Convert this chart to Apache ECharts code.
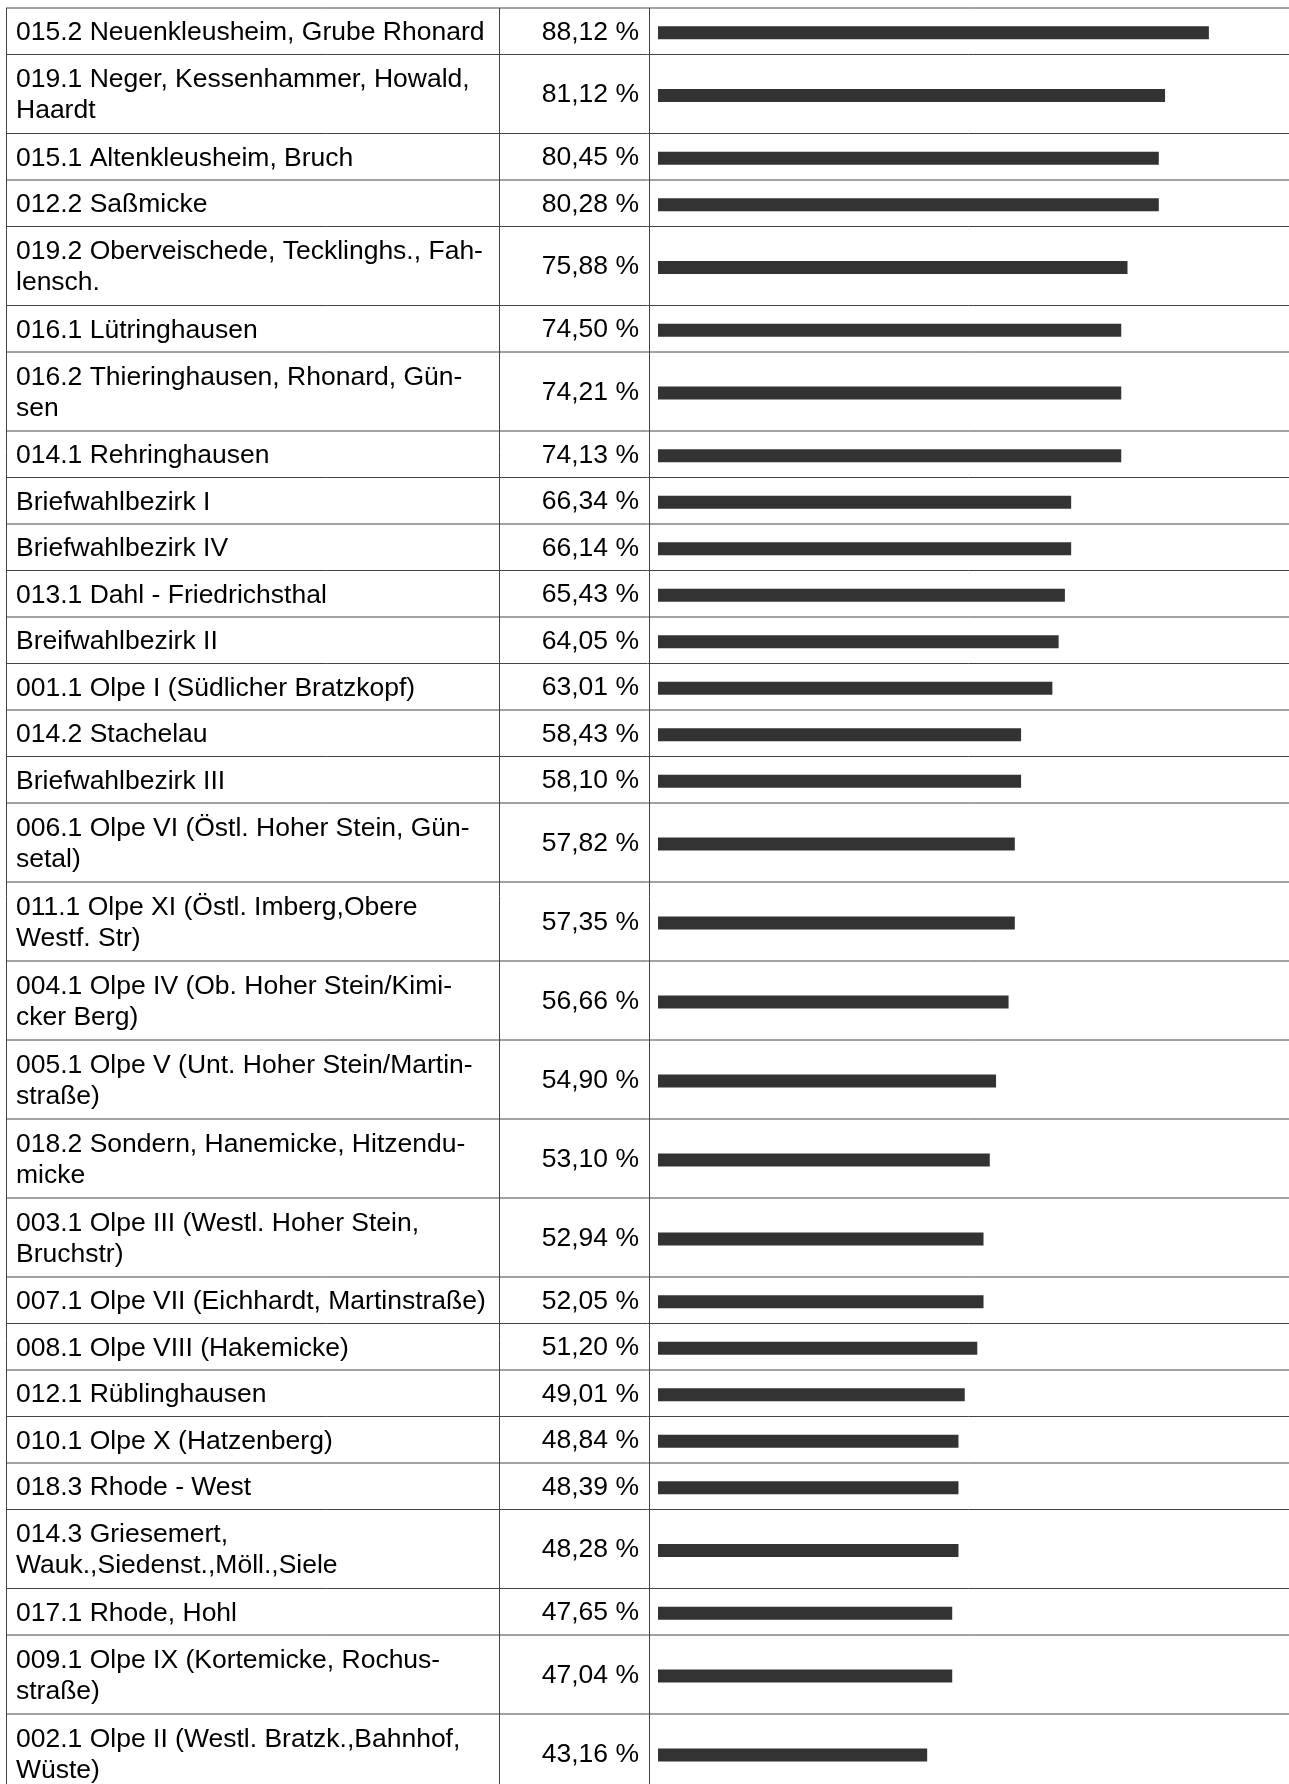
<!DOCTYPE html>
<html>
<head>
<meta charset="utf-8">
<title>Wahlbeteiligung</title>
<script src="https://cdn.jsdelivr.net/npm/echarts@6/dist/echarts.min.js"></script>
<style>
  html, body { margin: 0; padding: 0; background: #fff; }
  #chart { width: 1289px; height: 1784px; }
</style>
</head>
<body>
<div id="chart"></div>
<script>
// Stimmbezirke (wrapped as in the printed table)
const districts = [
  '015.2 Neuenkleusheim, Grube Rhonard',
  '019.1 Neger, Kessenhammer, Howald,\nHaardt',
  '015.1 Altenkleusheim, Bruch',
  '012.2 Saßmicke',
  '019.2 Oberveischede, Tecklinghs., Fah-\nlensch.',
  '016.1 Lütringhausen',
  '016.2 Thieringhausen, Rhonard, Gün-\nsen',
  '014.1 Rehringhausen',
  'Briefwahlbezirk I',
  'Briefwahlbezirk IV',
  '013.1 Dahl - Friedrichsthal',
  'Breifwahlbezirk II',
  '001.1 Olpe I (Südlicher Bratzkopf)',
  '014.2 Stachelau',
  'Briefwahlbezirk III',
  '006.1 Olpe VI (Östl. Hoher Stein, Gün-\nsetal)',
  '011.1 Olpe XI (Östl. Imberg,Obere\nWestf. Str)',
  '004.1 Olpe IV (Ob. Hoher Stein/Kimi-\ncker Berg)',
  '005.1 Olpe V (Unt. Hoher Stein/Martin-\nstraße)',
  '018.2 Sondern, Hanemicke, Hitzendu-\nmicke',
  '003.1 Olpe III (Westl. Hoher Stein,\nBruchstr)',
  '007.1 Olpe VII (Eichhardt, Martinstraße)',
  '008.1 Olpe VIII (Hakemicke)',
  '012.1 Rüblinghausen',
  '010.1 Olpe X (Hatzenberg)',
  '018.3 Rhode - West',
  '014.3 Griesemert,\nWauk.,Siedenst.,Möll.,Siele',
  '017.1 Rhode, Hohl',
  '009.1 Olpe IX (Kortemicke, Rochus-\nstraße)',
  '002.1 Olpe II (Westl. Bratzk.,Bahnhof,\nWüste)'
]

// printed percentages
const turnout = [
  88.12, 81.12, 80.45, 80.28, 75.88, 74.50, 74.21, 74.13, 66.34, 66.14,
  65.43, 64.05, 63.01, 58.43, 58.10, 57.82, 57.35, 56.66, 54.90, 53.10,
  52.94, 52.05, 51.20, 49.01, 48.84, 48.39, 48.28, 47.65, 47.04, 43.16
]

// bar lengths as drawn (whole percent)
const barLength = [
  88, 81, 80, 80, 75, 74, 74, 74, 66, 66,
  65, 64, 63, 58, 58, 57, 57, 56, 54, 53,
  52, 52, 51, 49, 48, 48, 48, 47, 47, 43
]

const chart = echarts.init(document.getElementById('chart'), null, { renderer: 'canvas' })

const FONT = "'Liberation Sans', Arial, Helvetica, sans-serif"
const FONT_SIZE = 26.5
const TABLE_TOP = 8
const TABLE_LEFT = 6.5
const COL_1 = 499.5
const COL_2 = 649.5
const BAR_LEFT = 658
const BAR_WIDTH = 626
const ONE_LINE = 46.5
const TWO_LINES = 79

const grids = []
const xAxes = []
const yAxes = []
const series = []
const graphics = []

let y = TABLE_TOP
districts.forEach((name, i) => {
  const h = name.indexOf('\n') >= 0 ? TWO_LINES : ONE_LINE

  // row separator
  graphics.push({
    type: 'line',
    silent: true,
    shape: { x1: TABLE_LEFT - 0.5, y1: y, x2: 1289, y2: y },
    style: { stroke: '#444', lineWidth: 1 }
  })

  grids.push({
    left: BAR_LEFT,
    width: BAR_WIDTH,
    top: y + 1.5,
    height: h,
    outerBoundsMode: 'none',
    containLabel: false
  })
  xAxes.push({
    gridIndex: i,
    type: 'value',
    min: 0,
    max: 100,
    show: false
  })
  yAxes.push({
    gridIndex: i,
    type: 'category',
    data: [name],
    axisLine: { show: false },
    axisTick: { show: false },
    splitLine: { show: false },
    axisLabel: {
      margin: BAR_LEFT - 16,
      align: 'left',
      verticalAlign: 'middle',
      color: '#000',
      fontFamily: FONT,
      fontSize: FONT_SIZE,
      lineHeight: 31,
      padding: [0, 0, 3, 0]
    }
  })
  series.push({
    type: 'bar',
    xAxisIndex: i,
    yAxisIndex: i,
    data: [barLength[i]],
    barWidth: 13,
    silent: true,
    itemStyle: { color: '#333333' },
    label: {
      show: true,
      position: [-19, '50%'],
      offset: [0, -0.5],
      align: 'right',
      verticalAlign: 'middle',
      color: '#000',
      fontFamily: FONT,
      fontSize: FONT_SIZE,
      formatter: () => turnout[i].toFixed(2).replace('.', ',') + ' %'
    }
  })

  y += h
})

// bottom line of the last row (falls outside the picture)
graphics.push({
  type: 'line',
  silent: true,
  shape: { x1: TABLE_LEFT - 0.5, y1: y, x2: 1289, y2: y },
  style: { stroke: '#444', lineWidth: 1 }
})

// column lines
;[TABLE_LEFT, COL_1, COL_2].forEach(x => {
  graphics.push({
    type: 'line',
    silent: true,
    shape: { x1: x, y1: TABLE_TOP, x2: x, y2: y },
    style: { stroke: '#444', lineWidth: 1 }
  })
})

chart.setOption({
  animation: false,
  backgroundColor: '#fff',
  textStyle: { fontFamily: FONT },
  grid: grids,
  xAxis: xAxes,
  yAxis: yAxes,
  series: series,
  graphic: graphics
})
</script>
</body>
</html>
